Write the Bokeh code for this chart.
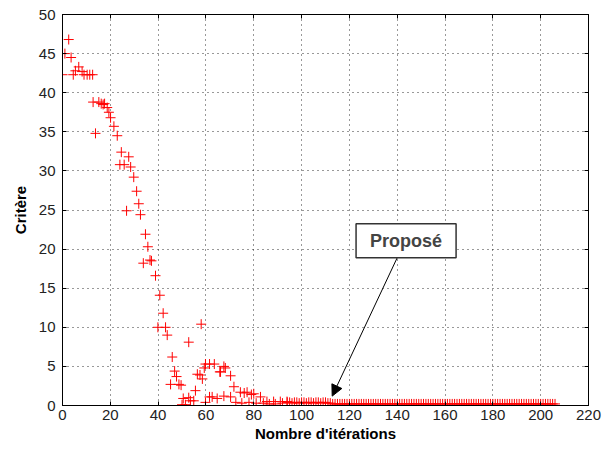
from bokeh.plotting import figure
from bokeh.models import (FixedTicker, LinearAxis, Range1d, Label, Arrow, NormalHead,
                          CustomJSTickFormatter)
from bokeh.embed import file_html
from bokeh.resources import INLINE

# iterations (x) and criterion values (y)
iters_head = [0, 1, 2.6, 3.6, 4.5, 5.4, 6.8, 8.2, 9, 10.3, 11.4, 12.6,
              12.8, 13.8, 15.2, 16.2, 17, 17.6, 18.7, 19.4, 20.1, 21.5, 22.9,
              24.6, 24, 25.8, 27.7, 28.5, 29.8, 31, 31.9, 26.8, 32.6, 34.7,
              35.7, 33.8, 37.2, 36.6, 38.9, 40.7, 42.1, 39.9, 43.1, 43.8,
              45.9, 46.9, 47.7, 45.2, 48.7, 49.6, 50.5, 50.0, 51.4, 52.8,
              52.8, 53.5, 54.9, 55.6, 56.4, 57.5, 58.5, 58.0, 59.3, 59.8,
              59.8, 61.5, 61.5, 62.6, 63.5, 64.7, 65.8, 66.1, 67.5, 67.5,
              68.1, 70.3, 70.3, 71.7, 72.5, 74.4, 75, 76, 77.2, 78, 79, 80,
              81, 82.8, 84, 85.5, 86.5, 88.3, 89, 91.1, 92, 93.9]
crit_head = [42.3, 45.0, 46.8, 44.5, 42.3, 42.8, 43.3, 42.7, 42.3, 42.3, 42.3, 42.3,
             38.8, 34.8, 38.8, 38.6, 38.5, 38.6, 38.1, 37.5, 36.8, 35.7, 34.5,
             32.4, 30.8, 30.8, 31.8, 30.5, 29.2, 27.4, 25.8, 24.9, 24.4, 21.9,
             20.3, 18.2, 18.5, 18.6, 16.6, 14.1, 11.8, 10.0, 10.0, 9.0,
             6.2, 4.4, 3.7, 2.7, 2.7, 2.6, 0.9, 0.1, 0.1, 8.1,
             1.0, 0.6, 0.6, 1.9, 4.0, 3.9, 3.4, 10.4, 4.8, 5.3,
             0.4, 5.3, 1.1, 1.1, 5.3, 0.9, 4.3, 4.3, 5.0, 1.2,
             4.8, 3.8, 1.1, 2.4, 0.4, 1.7, 0.3, 1.6, 1.7, 0.4, 1.4, 1.5,
             0.3, 1.1, 0.3, 0.5, 0.2, 0.5, 0.2, 0.5, 0.3, 0.5]
iters_tail = list(range(94, 207))
crit_tail = [0.4, 0.4, 0.3, 0.4, 0.4, 0.3, 0.4, 0.4, 0.3, 0.4,
             0.4, 0.3, 0.4, 0.4, 0.3, 0.4, 0.4, 0.3, 0.3,
             0.2, 0.2, 0.2, 0.2, 0.2, 0.2, 0.2, 0.2, 0.2, 0.2, 0.2,
             0.2, 0.2, 0.2, 0.2, 0.2, 0.2, 0.2, 0.2, 0.2, 0.2,
             0.2, 0.2, 0.2, 0.2, 0.2, 0.2, 0.2, 0.2, 0.2, 0.2,
             0.2, 0.2, 0.2, 0.2, 0.2, 0.2, 0.2, 0.2, 0.2, 0.2,
             0.2, 0.2, 0.2, 0.2, 0.2, 0.2, 0.2, 0.2, 0.2, 0.2,
             0.2, 0.2, 0.2, 0.2, 0.2, 0.2, 0.2, 0.2, 0.2, 0.2,
             0.2, 0.2, 0.2, 0.2, 0.2, 0.2, 0.2, 0.2, 0.2, 0.2,
             0.2, 0.2, 0.2, 0.2, 0.2, 0.2, 0.2, 0.2, 0.2, 0.2,
             0.2, 0.2, 0.2, 0.2, 0.2, 0.2, 0.2, 0.2, 0.2, 0.2,
             0.2, 0.2, 0.2, 0.2]
crit_tail = crit_tail[:len(iters_tail)]

x_ticks = [0, 20, 40, 60, 80, 100, 120, 140, 160, 180, 200, 220]
y_ticks = [0, 5, 10, 15, 20, 25, 30, 35, 40, 45, 50]

annot_text = "Proposé"
annot_pos = (143.7, 21.06)
arrow_start = (140, 18.9)
arrow_end = (112.8, 1.2)

x = iters_head + iters_tail
y = crit_head + crit_tail

p = figure(width=607, height=445, output_backend="svg", toolbar_location=None,
           x_range=Range1d(0, 220), y_range=Range1d(0, 50),
           min_border_left=62, min_border_right=19, min_border_top=14,
           min_border_bottom=40)
p.background_fill_color = "white"
p.border_fill_color = "white"
p.outline_line_color = "black"
p.outline_line_width = 1

p.scatter(x, y, marker="cross", size=10, line_color="#ff0000", line_width=1)

FONT = "Liberation Sans"
for ax in (p.xaxis[0], p.yaxis[0]):
    ax.major_tick_in = 4
    ax.major_tick_out = 0
    ax.minor_tick_in = 0
    ax.minor_tick_out = 0
    ax.axis_line_color = "black"
    ax.major_label_text_font = FONT
    ax.major_label_text_font_size = "15px"
    ax.major_label_text_color = "#222222"
    ax.axis_label_text_font = FONT
    ax.axis_label_text_font_style = "bold"
    ax.axis_label_text_color = "black"

p.xaxis[0].ticker = FixedTicker(ticks=x_ticks)
p.yaxis[0].ticker = FixedTicker(ticks=y_ticks)
p.xaxis[0].axis_label = "Nombre d'itérations"
p.yaxis[0].axis_label = "Critère"
p.xaxis[0].axis_label_text_font_size = "15px"
p.yaxis[0].axis_label_text_font_size = "15px"
p.xaxis[0].major_label_standoff = 4
p.yaxis[0].major_label_standoff = 7
p.xaxis[0].axis_label_standoff = 2
p.yaxis[0].axis_label_standoff = 7

blank = CustomJSTickFormatter(code="return ''")
top_ax = LinearAxis(ticker=FixedTicker(ticks=x_ticks), formatter=blank,
                    major_tick_in=4, major_tick_out=0, minor_tick_in=0, minor_tick_out=0,
                    major_label_standoff=0)
right_ax = LinearAxis(ticker=FixedTicker(ticks=y_ticks), formatter=blank,
                      major_tick_in=4, major_tick_out=0, minor_tick_in=0, minor_tick_out=0,
                      major_label_standoff=0)
p.add_layout(top_ax, "above")
p.add_layout(right_ax, "right")

p.xgrid.ticker = FixedTicker(ticks=x_ticks)
p.ygrid.ticker = FixedTicker(ticks=y_ticks)
for g in (p.xgrid, p.ygrid):
    g.grid_line_color = "black"
    g.grid_line_dash = "1 4"
    g.grid_line_width = 1
    g.grid_line_alpha = 0.8

p.add_layout(Arrow(end=NormalHead(size=11, fill_color="black", line_color="black"),
                   x_start=arrow_start[0], y_start=arrow_start[1],
                   x_end=arrow_end[0], y_end=arrow_end[1],
                   line_color="black", line_width=1))

p.add_layout(Label(x=annot_pos[0], y=annot_pos[1], text=annot_text,
                   text_align="center", text_baseline="middle",
                   text_font=FONT, text_font_size="18px", text_font_style="bold",
                   background_fill_color="white", border_line_color="#333333",
                   border_line_width=1.5, padding=(14, 7)))

open("out.html", "w").write(file_html(p, INLINE))
